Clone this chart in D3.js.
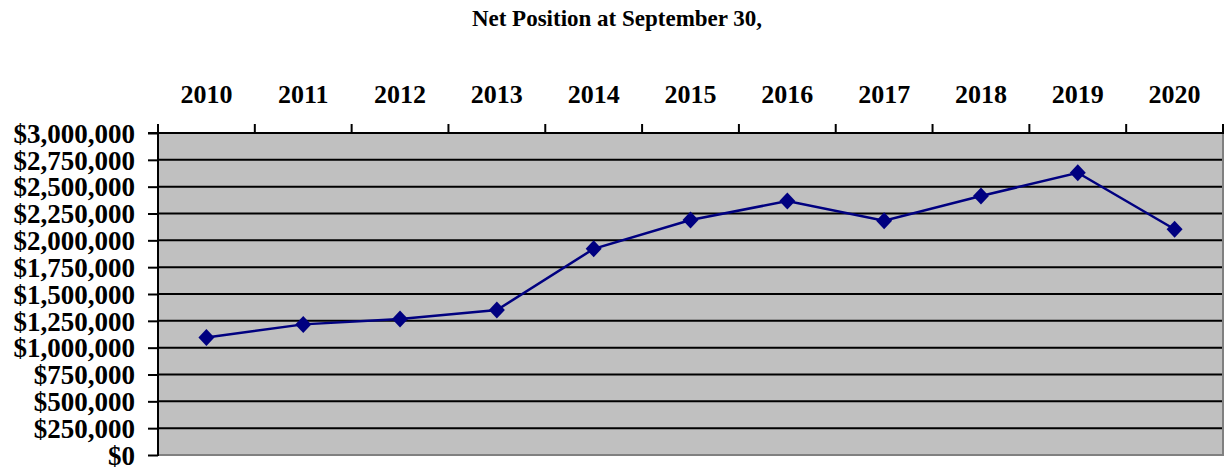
<!DOCTYPE html>
<html>
<head>
<meta charset="utf-8">
<script src="https://cdn.jsdelivr.net/npm/d3@7"></script>
<style>
  html, body { margin: 0; padding: 0; background: #fff; }
  svg { display: block; }
  text { font-family: "Liberation Serif", "Times New Roman", serif; font-weight: bold; fill: #000; }
</style>
</head>
<body>
<svg id="chart" width="1225" height="470"></svg>
<script>
// ---- data ----
const titleText = "Net Position at September 30,";
const years = ["2010","2011","2012","2013","2014","2015","2016","2017","2018","2019","2020"];
const netPosition = [1095000, 1217000, 1267000, 1351000, 1921000, 2189000, 2366000, 2183000, 2413000, 2630000, 2103000];
const yTicks = [0, 250000, 500000, 750000, 1000000, 1250000, 1500000, 1750000, 2000000, 2250000, 2500000, 2750000, 3000000];

(function () {
// ---- layout ----
const svg = d3.select("#chart");
const pLeft = 158, pRight = 1223, pTop = 133, pBottom = 455;

const x = d3.scaleBand().domain(years).range([pLeft, pRight]).paddingInner(0).paddingOuter(0);
const y = d3.scaleLinear().domain([0, 3000000]).range([pBottom, pTop]);
const fmt = v => "$" + d3.format(",")(v);

// title
svg.append("text")
  .attr("x", 617).attr("y", 26)
  .attr("text-anchor", "middle")
  .style("font-size", "23px")
  .text(titleText);

// plot background
svg.append("rect")
  .attr("x", pLeft).attr("y", pTop)
  .attr("width", pRight - pLeft).attr("height", pBottom - pTop)
  .attr("fill", "#c0c0c0");

// gridlines
svg.append("g")
  .selectAll("line")
  .data(yTicks.filter(v => v > 0 && v < 3000000))
  .join("line")
  .attr("x1", pLeft).attr("x2", pRight)
  .attr("y1", d => y(d)).attr("y2", d => y(d))
  .attr("stroke", "#000").attr("stroke-width", 2);

// right & bottom gray border
svg.append("path")
  .attr("d", `M${pRight},${pTop} V${pBottom} H${pLeft}`)
  .attr("fill", "none").attr("stroke", "#808080").attr("stroke-width", 2);

// left axis
const yAxis = d3.axisLeft(y).tickValues(yTicks).tickFormat(fmt).tickSize(10).tickPadding(13);
const gy = svg.append("g").attr("transform", `translate(${pLeft},0)`).call(yAxis);
gy.select(".domain").remove();
gy.selectAll(".tick line").attr("stroke", "#000").attr("stroke-width", 2);
gy.selectAll(".tick text")
  .style("font-size", "27px")
  .style("font-family", '"Liberation Serif", "Times New Roman", serif')
  .style("font-weight", "bold")
  .attr("dy", "0.34em")
  .attr("fill", "#000");
svg.append("line")
  .attr("x1", pLeft).attr("x2", pLeft)
  .attr("y1", pTop - 9).attr("y2", pBottom + 1)
  .attr("stroke", "#000").attr("stroke-width", 2);

// top axis line
svg.append("line")
  .attr("x1", pLeft - 10).attr("x2", pRight + 1)
  .attr("y1", pTop).attr("y2", pTop)
  .attr("stroke", "#000").attr("stroke-width", 2);

// top tick marks at category boundaries
const boundaries = years.map(d => x(d)).concat([x(years[years.length - 1]) + x.bandwidth()]);
svg.append("g")
  .selectAll("line")
  .data(boundaries)
  .join("line")
  .attr("x1", d => d).attr("x2", d => d)
  .attr("y1", pTop - 9).attr("y2", pTop)
  .attr("stroke", "#000").attr("stroke-width", 2);

// year labels
svg.append("g")
  .selectAll("text")
  .data(years)
  .join("text")
  .attr("x", d => x(d) + x.bandwidth() / 2)
  .attr("y", 103)
  .attr("text-anchor", "middle")
  .style("font-size", "26px")
  .text(d => d);

// line
const pts = years.map((d, i) => [x(d) + x.bandwidth() / 2, y(netPosition[i])]);
svg.append("path")
  .datum(pts)
  .attr("d", d3.line())
  .attr("fill", "none")
  .attr("stroke", "#000080")
  .attr("stroke-width", 2.5);

// diamond markers
svg.append("g")
  .selectAll("path")
  .data(pts)
  .join("path")
  .attr("transform", d => `translate(${d[0]},${d[1]})`)
  .attr("d", "M0,-8.5 L8,0 L0,8.5 L-8,0 Z")
  .attr("fill", "#000080");
})();
</script>
</body>
</html>
